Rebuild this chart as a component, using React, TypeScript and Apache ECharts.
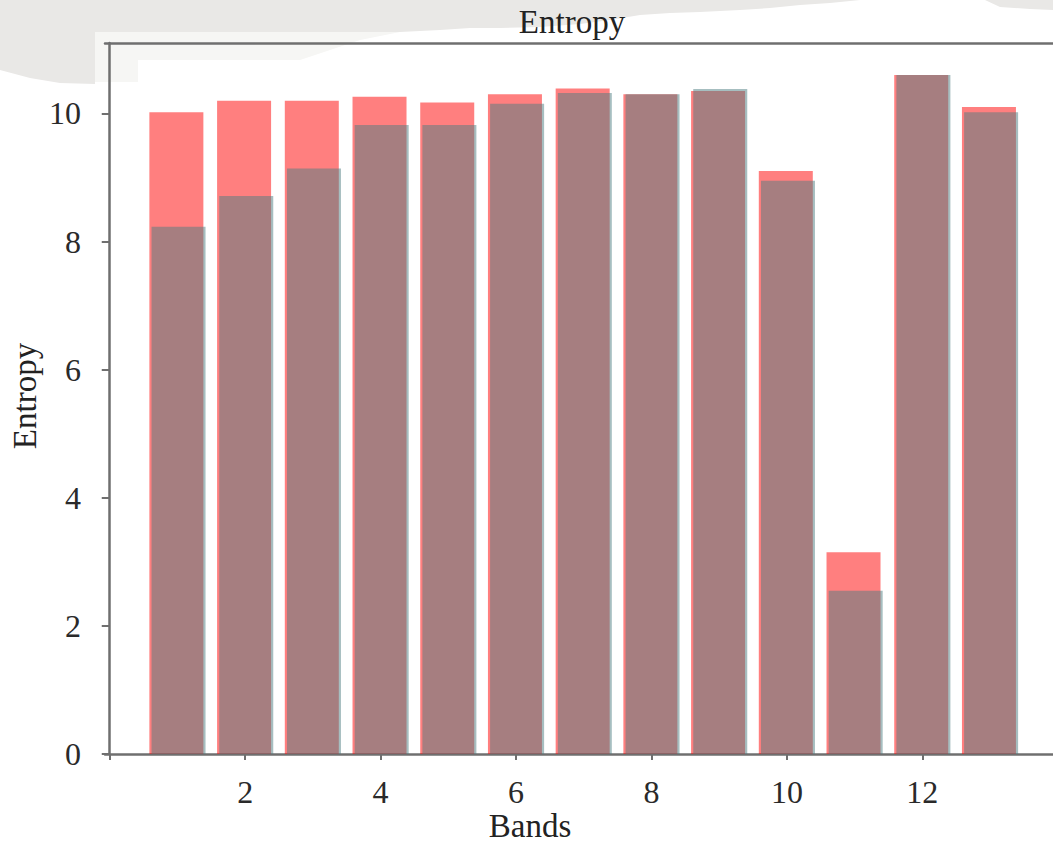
import React, { useEffect, useRef } from "react";
import * as echarts from "echarts";

const bands = [1, 2, 3, 4, 5, 6, 7, 8, 9, 10, 11, 12, 13];
const entropyRed = [10.02, 10.2, 10.2, 10.26, 10.17, 10.3, 10.39, 10.3, 10.35, 9.1, 3.15, 10.6, 10.1];
const entropyBlue = [8.23, 8.71, 9.14, 9.82, 9.82, 10.15, 10.32, 10.3, 10.38, 8.95, 2.55, 10.6, 10.02];
const xTickValues = [0, 2, 4, 6, 8, 10, 12];
const xLabelValues = [2, 4, 6, 8, 10, 12];
const yTickValues = [0, 2, 4, 6, 8, 10];
const chartTitle = "Entropy";
const xAxisTitle = "Bands";
const yAxisTitle = "Entropy";

const FONT = "'Liberation Serif', 'DejaVu Serif', serif";
const AXIS_COLOR = "#6f6f6f";
const X_MIN = -0.07;
const X_MAX = 13.93;

export default function App() {
  const ref = useRef<HTMLDivElement>(null);
  useEffect(() => {
    const chart = echarts.init(ref.current!, null, { renderer: "svg" });
    chart.setOption({
      animation: false,
      backgroundColor: "#ffffff",
      grid: {
        left: 105,
        top: 43,
        width: 948,
        height: 711,
        show: false,
      },
      xAxis: [
        {
          type: "value",
          min: X_MIN,
          max: X_MAX,
          splitLine: { show: false },
          axisLine: { show: true, onZero: false, lineStyle: { color: AXIS_COLOR, width: 2.5 } },
          axisTick: { show: true, length: 6, customValues: xTickValues, lineStyle: { color: AXIS_COLOR, width: 2 } },
          axisLabel: {
            customValues: xLabelValues,
            formatter: (v: number) => (xLabelValues.includes(v) ? String(v) : ""),
            margin: 22,
            fontFamily: FONT,
            fontSize: 32,
            color: "#2a2a2a",
          },
        },
        {
          type: "value",
          position: "top",
          min: X_MIN,
          max: X_MAX,
          splitLine: { show: false },
          axisLine: { show: true, onZero: false, lineStyle: { color: AXIS_COLOR, width: 2.5 } },
          axisTick: { show: false },
          axisLabel: { show: false },
        },
      ],
      yAxis: {
        type: "value",
        min: 0,
        max: 11.1,
        splitLine: { show: false },
        axisLine: { show: true, lineStyle: { color: AXIS_COLOR, width: 2.5 } },
        axisTick: { show: true, length: 8, customValues: yTickValues, lineStyle: { color: AXIS_COLOR, width: 2 } },
        axisLabel: {
          customValues: yTickValues,
          formatter: (v: number) => (yTickValues.includes(v) ? String(v) : ""),
          margin: 24,
          fontFamily: FONT,
          fontSize: 32,
          color: "#2a2a2a",
        },
      },
      series: [
        {
          type: "bar",
          xAxisIndex: 0,
          data: bands.map((b, i) => [b, entropyRed[i]]),
          barWidth: 54,
          barGap: "-96%",
          itemStyle: { color: "rgba(255,0,0,0.5)" },
        },
        {
          type: "bar",
          xAxisIndex: 0,
          data: bands.map((b, i) => [b, entropyBlue[i]]),
          barWidth: 54,
          barGap: "-96%",
          itemStyle: { color: "rgba(77,125,130,0.5)" },
        },
      ],
      graphic: [
        {
          type: "polygon",
          z: -10,
          shape: {
            points: [
              [0, 0], [1053, 0], [1053, 10], [1030, 9], [1000, 7], [985, 0], [860, 0], [830, 3],
              [800, 5], [770, 8], [740, 10], [700, 12], [670, 13], [640, 15], [610, 20], [580, 24],
              [540, 27], [500, 28], [470, 28], [440, 30], [400, 32], [95, 32], [95, 84], [60, 83],
              [30, 78], [0, 70],
            ],
          },
          style: { fill: "#e9e8e6" },
        },
        {
          type: "polygon",
          z: -9,
          shape: {
            points: [
              [95, 32], [400, 32], [360, 40], [330, 50], [300, 60], [138, 60], [138, 82], [95, 82],
            ],
          },
          style: { fill: "#f6f6f4" },
        },
        {
          type: "text",
          x: 572,
          y: 22,
          style: {
            text: chartTitle,
            font: `33px ${FONT}`,
            fill: "#222",
            textAlign: "center",
            textVerticalAlign: "middle",
          },
        },
        {
          type: "text",
          x: 530,
          y: 826,
          style: {
            text: xAxisTitle,
            font: `33px ${FONT}`,
            fill: "#222",
            textAlign: "center",
            textVerticalAlign: "middle",
          },
        },
        {
          type: "text",
          x: 25,
          y: 396,
          rotation: Math.PI / 2,
          style: {
            text: yAxisTitle,
            font: `33px ${FONT}`,
            fill: "#222",
            textAlign: "center",
            textVerticalAlign: "middle",
          },
        },
      ],
    });
    return () => chart.dispose();
  }, []);
  return (
    <div
      ref={ref}
      style={{ position: "fixed", left: 0, top: 0, width: 1053, height: 844, background: "#fff" }}
    />
  );
}
